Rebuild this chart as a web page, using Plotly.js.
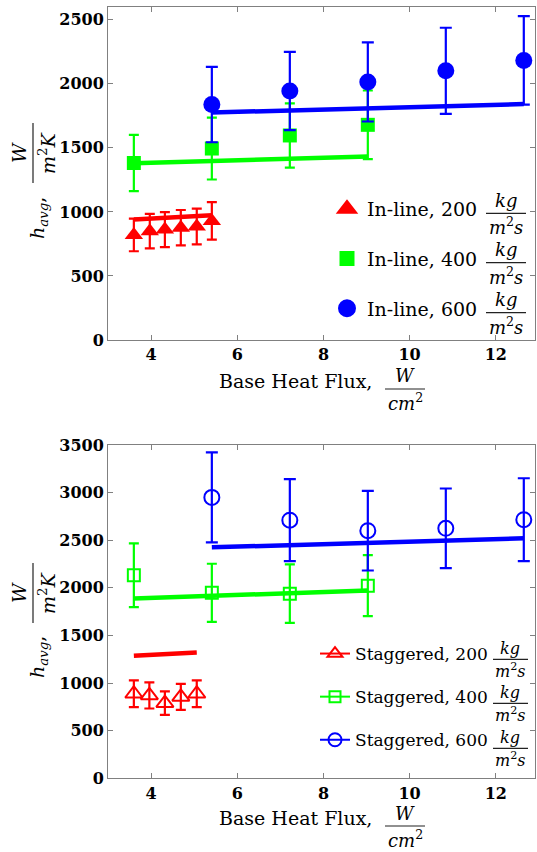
<!DOCTYPE html>
<html>
<head>
<meta charset="utf-8">
<script src="https://cdn.plot.ly/plotly-3.0.1.min.js"></script>
<style>
  html, body { margin: 0; padding: 0; background: #fff; }
  #chart { width: 537px; height: 852px; }
</style>
</head>
<body>
<div id="chart"></div>
<script>
// ---- In-line tube bank: h_avg vs base heat flux ----
const inl200X = [3.60, 3.97, 4.32, 4.69, 5.06, 5.41];
const inl200Y = [820, 850, 862, 877, 886, 930];
const inl200Err = [127, 135, 137, 138, 140, 146];
const inl200FitX = [3.60, 5.41];
const inl200FitY = [940, 975];

const inl400X = [3.60, 5.41, 7.22, 9.03];
const inl400Y = [1382, 1495, 1597, 1680];
const inl400Err = [219, 242, 251, 268];
const inl400FitX = [3.60, 9.03];
const inl400FitY = [1380, 1432];

const inl600X = [5.41, 7.22, 9.03, 10.84, 12.65];
const inl600Y = [1838, 1944, 2015, 2102, 2183];
const inl600Err = [294, 306, 309, 336, 346];
const inl600FitX = [5.41, 12.65];
const inl600FitY = [1776, 1842];

// ---- Staggered tube bank ----
const stg200X = [3.60, 3.96, 4.32, 4.69, 5.06];
const stg200Y = [888, 870, 789, 855, 888];
const stg200Err = [140, 137, 123, 136, 140];
const stg200FitX = [3.60, 5.06];
const stg200FitY = [1288, 1322];

const stg400X = [3.60, 5.41, 7.22, 9.03];
const stg400Y = [2132, 1948, 1939, 2023];
const stg400Err = [335, 305, 307, 321];
const stg400FitX = [3.60, 9.03];
const stg400FitY = [1888, 1972];

const stg600X = [5.41, 7.22, 9.03, 10.84, 12.65];
const stg600Y = [2950, 2711, 2600, 2625, 2716];
const stg600Err = [472, 430, 418, 418, 435];
const stg600FitX = [5.41, 12.65];
const stg600FitY = [2425, 2520];

const xTicks = [4, 6, 8, 10, 12];
const inlineNames = ['In-line, 200', 'In-line, 400', 'In-line, 600'];
const staggeredNames = ['Staggered, 200', 'Staggered, 400', 'Staggered, 600'];

const RED = '#ff0000', GREEN = '#00ff00', BLUE = '#0000ff';
const SERIF = 'DejaVu Serif';

// figure pixel -> paper fraction helpers (margins are zero)
const FW = 537, FH = 852;
const px = v => v / FW;
const py = v => 1 - v / FH;

function series(x, y, err, color, symbol, size, xa, ya, lw, cap) {
  return {
    type: 'scatter', mode: 'markers', x: x, y: y, xaxis: xa, yaxis: ya,
    showlegend: false, hoverinfo: 'skip',
    marker: { color: color, symbol: symbol, size: size, line: { color: color, width: lw } },
    error_y: { type: 'data', array: err, visible: true, color: color, thickness: 2.2, width: cap }
  };
}
function fit(x, y, color, xa, ya) {
  return {
    type: 'scatter', mode: 'lines', x: x, y: y, xaxis: xa, yaxis: ya,
    showlegend: false, hoverinfo: 'skip',
    line: { color: color, width: 4.5 }
  };
}
function legendEntry(name, color, symbol, size, xa, ya, legend, group, withLine) {
  return {
    type: 'scatter', mode: withLine ? 'lines+markers' : 'markers',
    x: [null], y: [null], xaxis: xa, yaxis: ya, name: name,
    legend: legend, legendgroup: group, hoverinfo: 'skip',
    marker: { color: color, symbol: symbol, size: size, line: { color: color, width: 2 } },
    line: { color: color, width: 2 }
  };
}

const traces = [
  series(inl200X, inl200Y, inl200Err, RED, 'triangle-up', 16, 'x', 'y', 0, 5),
  fit(inl200FitX, inl200FitY, RED, 'x', 'y'),
  series(inl400X, inl400Y, inl400Err, GREEN, 'square', 14, 'x', 'y', 0, 5),
  fit(inl400FitX, inl400FitY, GREEN, 'x', 'y'),
  series(inl600X, inl600Y, inl600Err, BLUE, 'circle', 17, 'x', 'y', 0, 6),
  fit(inl600FitX, inl600FitY, BLUE, 'x', 'y'),

  series(stg200X, stg200Y, stg200Err, RED, 'triangle-up-open', 15, 'x2', 'y2', 2, 5),
  fit(stg200FitX, stg200FitY, RED, 'x2', 'y2'),
  series(stg400X, stg400Y, stg400Err, GREEN, 'square-open', 12, 'x2', 'y2', 2, 5),
  fit(stg400FitX, stg400FitY, GREEN, 'x2', 'y2'),
  series(stg600X, stg600Y, stg600Err, BLUE, 'circle-open', 15, 'x2', 'y2', 2, 6),
  fit(stg600FitX, stg600FitY, BLUE, 'x2', 'y2'),

  legendEntry(inlineNames[0], RED, 'triangle-up', 16, 'x', 'y', 'legend', 'a', false),
  legendEntry(inlineNames[1], GREEN, 'square', 13, 'x', 'y', 'legend', 'b', false),
  legendEntry(inlineNames[2], BLUE, 'circle', 16, 'x', 'y', 'legend', 'c', false),
  legendEntry(staggeredNames[0], RED, 'triangle-up-open', 13, 'x2', 'y2', 'legend2', 'd', true),
  legendEntry(staggeredNames[1], GREEN, 'square-open', 11, 'x2', 'y2', 'legend2', 'e', true),
  legendEntry(staggeredNames[2], BLUE, 'circle-open', 13, 'x2', 'y2', 'legend2', 'f', true)
];

const axisStyle = {
  showline: true, linecolor: '#808080', linewidth: 1, mirror: 'ticks',
  ticks: 'inside', ticklen: 5, tickcolor: '#808080', tickwidth: 1,
  showgrid: false, zeroline: false,
  tickfont: { family: SERIF, size: 16, weight: 'bold', color: '#000' }
};
const xDomain = [px(108), px(535)];

// text helpers for the LaTeX-style titles
const annotations = [];
const shapes = [];
function label(x, y, text, size, angle, anchor) {
  annotations.push({
    xref: 'paper', yref: 'paper', x: px(x), y: py(y), text: text,
    showarrow: false, xanchor: anchor || 'center', yanchor: 'middle',
    textangle: angle || 0, font: { family: SERIF, size: size, color: '#000' }
  });
}
function bar(x0, y0, x1, y1) {
  shapes.push({
    type: 'line', xref: 'paper', yref: 'paper',
    x0: px(x0), y0: py(y0), x1: px(x1), y1: py(y1),
    line: { color: '#222', width: 1.2 }
  });
}
// horizontal fraction: numerator over denominator
function hfrac(cx, cy, x0, x1, num, den, size, up, down) {
  label(cx, cy - up, num, size);
  bar(x0, cy, x1, cy);
  label(cx, cy + down, den, size);
}
// vertical (rotated) fraction for the y titles
function vfrac(cx, y0, y1, num, den, size) {
  const cy = (y0 + y1) / 2;
  label(cx - 14, cy, num, size, -90);
  bar(cx, y0, cx, y1);
  label(cx + 14, cy, den, size, -90);
}

const KG = '<i>kg</i>';
const M2S = '<i>m</i><sup>2</sup><i>s</i>';

// x axis titles
[0, 437].forEach(dy => {
  label(374, 381 + dy, 'Base Heat Flux,', 19, 0, 'right');
  hfrac(405, 389 + dy, 385, 425, '<i>W</i>', '<i>cm</i><sup>2</sup>', 18, 13, 13);
});

// y axis titles
[[123, 183, 218], [563, 623, 657]].forEach(([a, b, c]) => {
  label(38, c, '<i>h</i><sub><i>avg</i></sub>,', 19, -90);
  vfrac(33, a, b, '<i>W</i>', '<i>m</i><sup>2</sup><i>K</i>', 19);
});

// unit fractions beside the legend entries
[213.3, 262.7, 312.7].forEach(cy => hfrac(506, cy, 486, 526, KG, M2S, 18, 13, 13));
[659.3, 703.3, 748.3].forEach(cy => hfrac(510, cy, 493, 528, KG, M2S, 16, 11, 11));

const layout = {
  width: FW, height: FH,
  margin: { l: 0, r: 0, t: 0, b: 0 },
  paper_bgcolor: '#fff', plot_bgcolor: '#fff',
  font: { family: SERIF },
  xaxis: Object.assign({}, axisStyle, { domain: xDomain, range: [3, 12.91], tickvals: xTicks, anchor: 'y' }),
  yaxis: Object.assign({}, axisStyle, { domain: [py(340), py(7)], range: [0, 2600], dtick: 500, anchor: 'x' }),
  xaxis2: Object.assign({}, axisStyle, { domain: xDomain, range: [3, 12.91], tickvals: xTicks, anchor: 'y2' }),
  yaxis2: Object.assign({}, axisStyle, { domain: [py(778.3), py(445)], range: [0, 3500], dtick: 500, anchor: 'x2' }),
  legend: {
    x: px(327), y: py(190), xanchor: 'left', yanchor: 'top',
    bgcolor: 'rgba(0,0,0,0)', borderwidth: 0,
    font: { family: SERIF, size: 19, color: '#000' },
    traceorder: 'grouped', tracegroupgap: 22
  },
  legend2: {
    x: px(315), y: py(636), xanchor: 'left', yanchor: 'top',
    bgcolor: 'rgba(0,0,0,0)', borderwidth: 0,
    font: { family: SERIF, size: 17, color: '#000' },
    traceorder: 'grouped', tracegroupgap: 18
  },
  annotations: annotations,
  shapes: shapes,
  showlegend: true
};

Plotly.newPlot('chart', traces, layout, { displayModeBar: false, staticPlot: true });
</script>
</body>
</html>
